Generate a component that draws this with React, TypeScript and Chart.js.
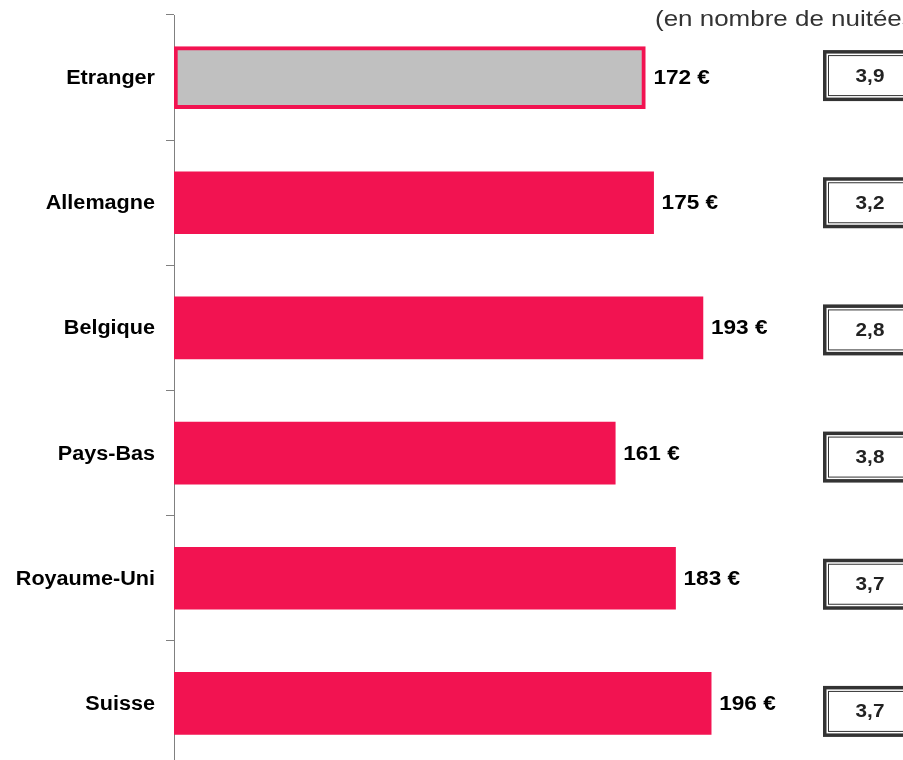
import React, { useEffect, useRef } from "react";
import { Chart, registerables } from "chart.js";

Chart.register(...registerables);

const categories = ["Etranger", "Allemagne", "Belgique", "Pays-Bas", "Royaume-Uni", "Suisse"];
const spending = [172, 175, 193, 161, 183, 196];
const nights = ["3,9", "3,2", "2,8", "3,8", "3,7", "3,7"];
const subtitle = "(en nombre de nuitées)";

const CRIMSON = "#F21351";
const GREY = "#C0C0C0";
const FONT = "Arial, 'Liberation Sans', sans-serif";

function stretchText(ctx: any, txt: string, x: number, y: number, sx: number) {
  ctx.save();
  ctx.translate(x, y);
  ctx.scale(sx, 1);
  ctx.fillText(txt, 0, 0);
  ctx.restore();
}

const overlay = {
  id: "overlay",
  afterDatasetsDraw(chart: any) {
    const ctx = chart.ctx;
    const meta = chart.getDatasetMeta(0);
    const y = chart.scales.y;
    ctx.save();
    // category labels
    ctx.font = `bold 20px ${FONT}`;
    ctx.fillStyle = "#000";
    ctx.textAlign = "right";
    ctx.textBaseline = "middle";
    categories.forEach((c, i) => {
      stretchText(ctx, c, 155, y.getPixelForValue(i) + 1, 1.08);
    });
    // value labels
    ctx.textAlign = "left";
    meta.data.forEach((bar: any, i: number) => {
      stretchText(ctx, `${spending[i]} €`, bar.x + 8, bar.y + 1, 1.13);
    });
    // boxes with nights
    nights.forEach((txt, i) => {
      const cy = y.getPixelForValue(i) + (i * 2 - 2);
      const left = 823, w = 94, h = 51;
      const top = cy - h / 2;
      ctx.strokeStyle = "#333";
      ctx.lineWidth = 3.5;
      ctx.strokeRect(left + 1.75, top + 1.75, w - 3.5, h - 3.5);
      ctx.lineWidth = 1;
      ctx.strokeRect(left + 5.5, top + 5.5, w - 11, h - 11);
      ctx.fillStyle = "#222";
      ctx.font = `bold 18px ${FONT}`;
      ctx.textAlign = "center";
      stretchText(ctx, txt, left + 47, cy + 1, 1.15);
    });
    // subtitle
    ctx.font = `22px ${FONT}`;
    ctx.fillStyle = "#333";
    ctx.textAlign = "left";
    ctx.textBaseline = "alphabetic";
    stretchText(ctx, subtitle, 655, 26, 1.18);
    ctx.restore();
  },
};

export default function App() {
  const ref = useRef<HTMLCanvasElement>(null);
  useEffect(() => {
    document.body.style.margin = "0";
    const chart = new Chart(ref.current!, {
      type: "bar",
      data: {
        labels: categories,
        datasets: [
          {
            data: spending,
            backgroundColor: spending.map((_, i) => (i === 0 ? GREY : CRIMSON)),
            borderColor: CRIMSON,
            borderWidth: spending.map((_, i) => (i === 0 ? 4 : 0)),
            borderSkipped: false,
            barThickness: 62,
          },
        ],
      },
      options: {
        indexAxis: "y",
        animation: false,
        responsive: false,
        maintainAspectRatio: false,
        layout: { padding: { top: 15, bottom: 14, left: 0, right: 0 } },
        plugins: { legend: { display: false }, tooltip: { enabled: false } },
        scales: {
          x: { display: false, min: 0, max: 266 },
          y: {
            afterFit(scale: any) {
              scale.width = 174;
            },
            grid: {
              offset: true,
              drawOnChartArea: false,
              drawTicks: true,
              tickLength: 8,
              color: "#808080",
            },
            border: { color: "#808080", width: 1 },
            ticks: { display: false },
          },
        },
      },
      plugins: [overlay],
    });
    return () => chart.destroy();
  }, []);
  return (
    <div style={{ position: "absolute", left: 0, top: 0, width: 903, height: 780 }}>
      <canvas ref={ref} width={903} height={780} style={{ width: 903, height: 780 }} />
    </div>
  );
}
